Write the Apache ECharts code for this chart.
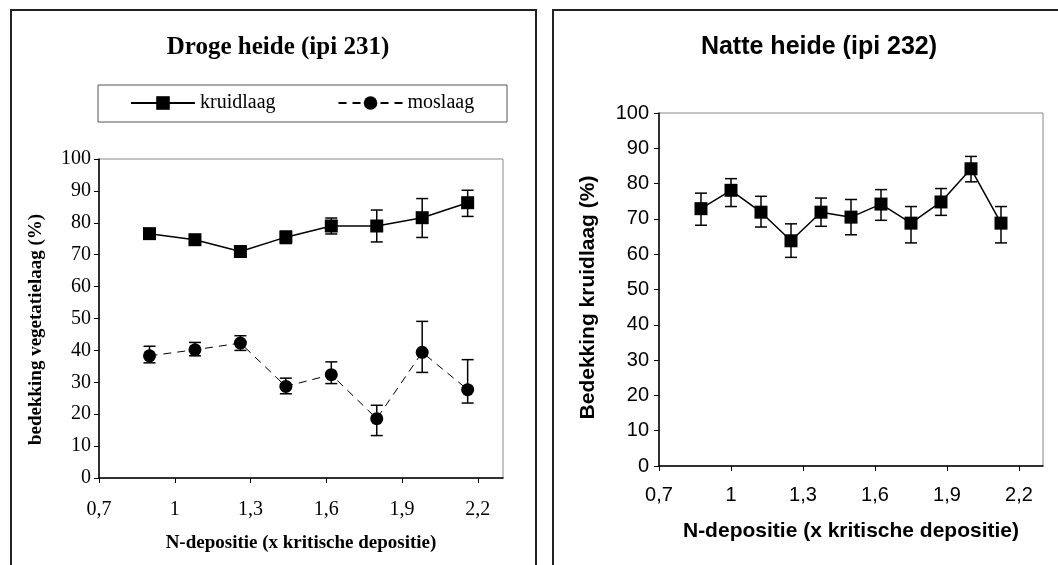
<!DOCTYPE html>
<html>
<head>
<meta charset="utf-8">
<script src="https://cdn.jsdelivr.net/npm/echarts@6/dist/echarts.min.js"></script>
<style>
  html, body { margin: 0; padding: 0; background: #fff; }
  #chart { width: 1058px; height: 565px; }
</style>
</head>
<body>
<div id="chart"></div>
<script>
// x tick labels (both panels)
var xTicks = [0.7, 1, 1.3, 1.6, 1.9, 2.2];

// Droge heide (ipi 231)
var drogeX = [0.9, 1.08, 1.26, 1.44, 1.62, 1.80, 1.98, 2.16];
var kruidlaag = [76.6, 74.7, 71.0, 75.5, 79.0, 79.0, 81.6, 86.3];
var kruidLow = [75.2, 73.4, 69.9, 73.5, 76.5, 74.0, 75.4, 82.0];
var kruidHigh = [78.0, 76.0, 72.2, 77.4, 81.5, 84.0, 87.6, 90.2];
var moslaag = [38.3, 40.2, 42.3, 28.7, 32.4, 18.6, 39.4, 27.7];
var mosLow = [36.1, 38.3, 40.0, 26.4, 29.6, 13.3, 33.1, 23.5];
var mosHigh = [41.3, 42.5, 44.6, 31.3, 36.4, 22.8, 49.1, 37.1];

// Natte heide (ipi 232)
var natteX = [0.875, 1, 1.125, 1.25, 1.375, 1.5, 1.625, 1.75, 1.875, 2, 2.125];
var natte = [72.9, 78.1, 71.9, 63.8, 71.9, 70.5, 74.2, 68.8, 74.8, 84.2, 68.8];
var natteLow = [68.2, 73.5, 67.7, 59.1, 67.9, 65.5, 69.6, 63.2, 71.0, 80.5, 63.2];
var natteHigh = [77.3, 81.4, 76.4, 68.6, 75.9, 75.5, 78.3, 73.5, 78.6, 87.7, 73.5];

var serif = 'Liberation Serif';
var sans = 'Liberation Sans';

function pairs(xs, ys) {
  return xs.map(function (x, i) { return [x, ys[i]]; });
}
function bars(xs, lo, hi) {
  return xs.map(function (x, i) { return [x, lo[i], hi[i]]; });
}
function commaFmt(v) {
  return String(Math.round(v * 10) / 10).replace('.', ',');
}

// error bar drawn with the axes' own scales
function errorBar(params, api) {
  var x = api.value(0);
  var lo = api.coord([x, api.value(1)]);
  var hi = api.coord([x, api.value(2)]);
  var w = 6;
  var st = { stroke: '#000', lineWidth: 1.5 };
  return {
    type: 'group',
    children: [
      { type: 'line', shape: { x1: lo[0], y1: lo[1], x2: hi[0], y2: hi[1] }, style: st },
      { type: 'line', shape: { x1: lo[0] - w, y1: lo[1], x2: lo[0] + w, y2: lo[1] }, style: st },
      { type: 'line', shape: { x1: hi[0] - w, y1: hi[1], x2: hi[0] + w, y2: hi[1] }, style: st }
    ]
  };
}

function xAxisCfg(idx, font, size, nameSize, nameGap, margin) {
  return {
    gridIndex: idx,
    type: 'value',
    min: 0.7,
    max: 2.3,
    name: 'N-depositie (x kritische depositie)',
    nameLocation: 'middle',
    nameGap: nameGap,
    nameTextStyle: { fontFamily: font, fontWeight: 'bold', fontSize: nameSize, color: '#000' },
    axisLine: { lineStyle: { color: '#000', width: 1.5 } },
    axisTick: { customValues: xTicks, length: 5, lineStyle: { color: '#000' } },
    axisLabel: { customValues: xTicks, formatter: commaFmt, margin: margin,
      fontFamily: font, fontSize: size, color: '#000' },
    splitLine: { show: false }
  };
}

function yAxisCfg(idx, name, font, size, nameSize, nameGap, margin, shift) {
  return {
    gridIndex: idx,
    type: 'value',
    min: 0,
    max: 100,
    interval: 10,
    name: name,
    nameLocation: 'middle',
    nameGap: nameGap,
    nameTextStyle: { fontFamily: font, fontWeight: 'bold', fontSize: nameSize, color: '#000',
      padding: [0, shift, 0, 0] },
    axisLine: { show: true, lineStyle: { color: '#000', width: 1.5 } },
    axisTick: { show: true, length: 5, lineStyle: { color: '#000' } },
    axisLabel: { margin: margin, fontFamily: font, fontSize: size, color: '#000' },
    splitLine: { show: false }
  };
}

var chart = echarts.init(document.getElementById('chart'));

var option = {
  animation: false,
  backgroundColor: '#fff',
  title: [
    { text: 'Droge heide (ipi 231)', left: 273, top: 30, textAlign: 'center',
      textStyle: { fontFamily: serif, fontWeight: 'bold', fontSize: 25, color: '#000' } },
    { text: 'Natte heide (ipi 232)', left: 814, top: 30, textAlign: 'center',
      textStyle: { fontFamily: sans, fontWeight: 'bold', fontSize: 25, color: '#000' } }
  ],
  legend: {
    data: ['kruidlaag', 'moslaag'],
    left: 130,
    top: 93,
    padding: 0,
    itemWidth: 64,
    itemHeight: 17,
    itemGap: 62,
    textStyle: { fontFamily: serif, fontSize: 20, color: '#000' }
  },
  graphic: [
    { type: 'rect', shape: { x: 11, y: 10, width: 525, height: 600 },
      style: { fill: 'none', stroke: '#222', lineWidth: 2 }, silent: true },
    { type: 'rect', shape: { x: 553, y: 10, width: 600, height: 600 },
      style: { fill: 'none', stroke: '#222', lineWidth: 2 }, silent: true },
    { type: 'rect', shape: { x: 98, y: 85, width: 409, height: 37 },
      style: { fill: 'none', stroke: '#555', lineWidth: 1 }, silent: true }
  ],
  grid: [
    { left: 99, top: 159, width: 404, height: 319, show: true, borderColor: '#888', borderWidth: 1 },
    { left: 659, top: 113, width: 384, height: 353, show: true, borderColor: '#888', borderWidth: 1 }
  ],
  xAxis: [
    xAxisCfg(0, serif, 20, 19, 56, 22),
    xAxisCfg(1, sans, 20, 21, 55, 19)
  ],
  yAxis: [
    yAxisCfg(0, 'bedekking vegetatielaag (%)', serif, 20, 19, 53, 8, 22),
    yAxisCfg(1, 'Bedekking kruidlaag (%)', sans, 20, 21, 60, 10, 16)
  ],
  series: [
    {
      name: 'kruidlaag', type: 'line', xAxisIndex: 0, yAxisIndex: 0,
      data: pairs(drogeX, kruidlaag),
      symbol: 'rect', symbolSize: 13,
      itemStyle: { color: '#000' },
      lineStyle: { color: '#000', width: 1.5 },
      z: 3
    },
    {
      name: 'moslaag', type: 'line', xAxisIndex: 0, yAxisIndex: 0,
      data: pairs(drogeX, moslaag),
      symbol: 'circle', symbolSize: 13,
      itemStyle: { color: '#000' },
      lineStyle: { color: '#000', width: 1, type: [8, 6] },
      z: 3
    },
    {
      name: 'kruidlaag-err', type: 'custom', xAxisIndex: 0, yAxisIndex: 0,
      data: bars(drogeX, kruidLow, kruidHigh),
      encode: { x: 0, y: [1, 2] },
      renderItem: errorBar, z: 2
    },
    {
      name: 'moslaag-err', type: 'custom', xAxisIndex: 0, yAxisIndex: 0,
      data: bars(drogeX, mosLow, mosHigh),
      encode: { x: 0, y: [1, 2] },
      renderItem: errorBar, z: 2
    },
    {
      name: 'natte kruidlaag', type: 'line', xAxisIndex: 1, yAxisIndex: 1,
      data: pairs(natteX, natte),
      symbol: 'rect', symbolSize: 13,
      itemStyle: { color: '#000' },
      lineStyle: { color: '#000', width: 1.5 },
      z: 3
    },
    {
      name: 'natte-err', type: 'custom', xAxisIndex: 1, yAxisIndex: 1,
      data: bars(natteX, natteLow, natteHigh),
      encode: { x: 0, y: [1, 2] },
      renderItem: errorBar, z: 2
    }
  ]
};

chart.setOption(option);
</script>
</body>
</html>
